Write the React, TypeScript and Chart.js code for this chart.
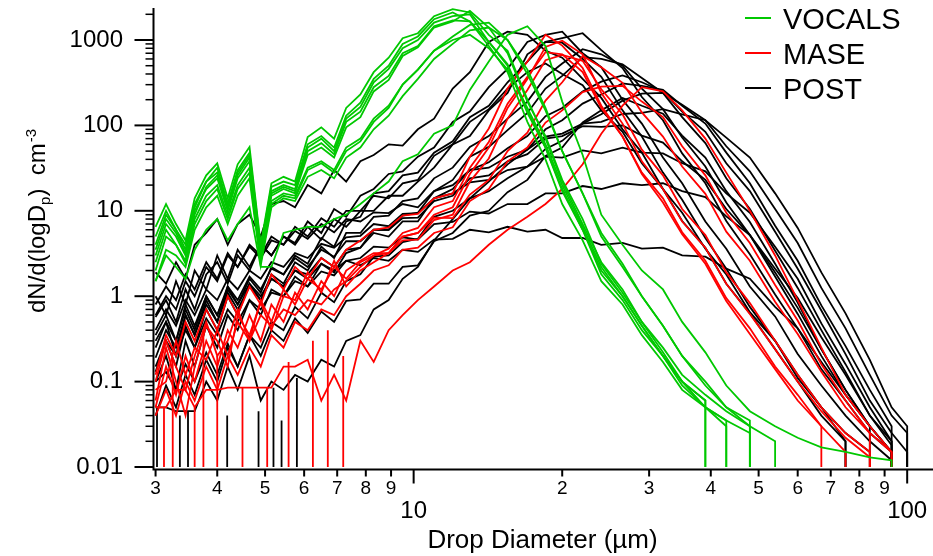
import { useEffect, useRef } from 'react';
import { Chart, registerables } from 'chart.js';

Chart.register(...registerables);

// Drop diameter bins (µm)
const DIAM = [3.0, 3.15, 3.3, 3.45, 3.6, 3.8, 4.0, 4.2, 4.4, 4.65, 4.9, 5.15, 5.45, 5.75, 6.1, 6.5, 6.9, 7.3, 7.8, 8.3, 8.9, 9.5, 10.2, 11, 12, 13, 14.2, 15.5, 17, 18.5, 20, 22, 24, 26.5, 29, 32, 35, 39, 43, 48, 54, 60, 67, 75, 84, 93, 100];

const X_TICKS = [3, 4, 5, 6, 7, 8, 9, 10, 20, 30, 40, 50, 60, 70, 80, 90, 100];
const X_BIG = [10, 100];
const Y_TICKS = [0.01, 0.1, 1, 10, 100, 1000];
const ZERO = 0.001; // zero count, plotted below the axis floor

const LEGEND_LABELS = ['VOCALS', 'MASE', 'POST'];
const LEGEND_COLORS = ['#00c800', '#ff0000', '#000000'];

// VOCALS
const VOCALS_1 = [6.5, 12, 7, 4.5, 14, 26, 36, 14, 35, 56, 4, 21, 25, 22, 73, 95, 70, 160, 230, 420, 620, 1050, 1200, 1900, 2300, 2100, 1150, 750, 200, 70, 22, 7, 2.5, 1.2, 0.5, 0.25, 0.12, 0.07, 0.045, 0.03];
const VOCALS_2 = [4, 9, 6, 3.5, 11, 22, 28, 12, 28, 45, 3.5, 17, 20, 18, 55, 70, 50, 120, 165, 320, 460, 800, 1000, 1600, 1900, 2000, 950, 500, 140, 55, 18, 6, 1.8, 0.9, 0.4, 0.2, 0.09, 0.05, 0.035];
const VOCALS_3 = [3, 7, 5, 3, 10, 18, 24, 10, 24, 38, 3, 15, 18, 16, 45, 55, 42, 95, 125, 250, 340, 650, 820, 1400, 1650, 2200, 1400, 700, 190, 75, 23, 8, 2.4, 1.1, 0.5, 0.22, 0.1, 0.06];
const VOCALS_4 = [2, 5, 4, 2.6, 8, 15, 20, 9, 20, 32, 2.8, 13, 16, 15, 32, 38, 30, 55, 70, 120, 170, 300, 450, 750, 1100, 1500, 1600, 1000, 400, 150, 50, 16, 5, 2.2, 1, 0.45, 0.2, 0.09, 0.05, 0.03, 0.02];
const VOCALS_5 = [5, 10, 6, 4, 12, 22, 32, 12, 30, 48, 3.8, 19, 22, 20, 60, 75, 55, 130, 185, 350, 500, 900, 1100, 1750, 2100, 1650, 850, 420, 110, 40, 12, 4.5, 1.5, 0.8, 0.35, 0.17, 0.08, 0.05, 0.03];
const VOCALS_6 = [1.5, 3.5, 3, 2.2, 6, 11, 15, 7, 15, 24, 2.3, 11, 14, 13, 25, 30, 24, 42, 55, 90, 130, 220, 350, 600, 900, 1300, 1400, 1000, 450, 160, 50, 16, 5.5, 2.4, 1, 0.45, 0.2, 0.1, 0.05, 0.035];
const VOCALS_7 = [3.5, 8, 5.5, 3.2, 9, 19, 26, 11, 26, 42, 3.2, 16, 19, 17, 50, 62, 46, 110, 145, 280, 380, 700, 850, 1450, 1700, 1650, 950, 520, 150, 55, 17, 6, 2, 1, 0.45, 0.2, 0.1, 0.06];
const VOCALS_8 = [1.5, 3, 2.2, 1.6, 3.5, 6, 8, 4.5, 7, 11, 2.2, 2.2, 5.5, 6, 6.5, 6.5, 8, 9, 12, 16, 22, 38, 46, 80, 100, 260, 560, 1150, 1450, 850, 190, 45, 9, 4, 2, 1.2, 0.5, 0.22, 0.09, 0.045, 0.03, 0.022, 0.017, 0.015, 0.013, 0.012];
const VOCALS_9 = [2.5, 6, 4, 2.4, 7, 13, 18, 8, 18, 28, 2.5, 12, 15, 14, 30, 36, 28, 50, 65, 110, 160, 300, 450, 750, 1000, 1150, 800, 450, 160, 60, 20, 6.5, 2.2, 1, 0.45, 0.2, 0.1, 0.05, 0.035, 0.025];

// MASE
const MASE_1 = [0.06, 0.25, 0.1, 0.04, 0.15, 0.45, 0.3, 0.15, 0.6, 0.35, 0.85, 0.4, 1.0, 0.9, 1.9, 1.1, 2.6, 1.3, 2, 2.5, 3.2, 5, 5.5, 9, 11, 27, 55, 160, 350, 830, 980, 680, 240, 105, 38, 18, 7.5, 3.7, 1.4, 0.62, 0.24, 0.1, 0.045, 0.022, 0.013];
const MASE_2 = [0.1, 0.3, 0.15, 0.08, 0.2, 0.5, 0.2, 0.3, 0.7, 0.3, 0.9, 0.5, 1.2, 0.8, 1.6, 1.2, 2.2, 1.6, 2.5, 3, 3.6, 5.5, 6.3, 11, 13, 32, 64, 180, 370, 720, 680, 420, 160, 74, 28, 14, 5.6, 2.6, 0.95, 0.42, 0.15, 0.07, 0.03, 0.015];
const MASE_3 = [0.05, 0.15, 0.07, 0.2, 0.1, 0.3, 0.15, 0.4, 0.25, 0.6, 0.3, 0.8, 0.5, 1.1, 0.7, 1.5, 1.0, 2, 2.6, 3.2, 3.2, 4.5, 4.6, 7.8, 9, 22, 41, 120, 260, 580, 670, 570, 265, 135, 52, 26, 10.5, 5.2, 1.9, 0.83, 0.3, 0.12, 0.05, 0.025, 0.015];
const MASE_4 = [0.08, 0.1, 0.3, 0.12, 0.25, 0.18, 0.4, 0.2, 0.5, 0.3, 0.6, 0.45, 0.7, 0.6, 0.9, 0.8, 1.2, 1.5, 2.2, 3, 3.2, 5, 5.5, 8.3, 8.2, 15.5, 23, 50, 82, 195, 320, 650, 480, 315, 142, 74, 33, 15.8, 5.7, 2.6, 0.86, 0.36, 0.13, 0.05, 0.025, 0.015];
const MASE_5 = [0.05, 0.05, 0.08, 0.08, 0.05, 0.08, 0.08, 0.085, 0.085, 0.085, 0.085, 0.085, 0.15, 0.15, 0.18, 0.06, 0.12, 0.06, 0.3, 0.17, 0.4, 0.6, 0.9, 1.3, 2, 2.5, 4, 6, 8.5, 12, 18, 35, 80, 170, 280, 250, 150, 70, 28, 10, 3, 0.9, 0.25, 0.07, 0.03, 0.015];
const MASE_6 = [0.04, 0.08, 0.04, 0.1, 0.06, 0.15, 0.08, 0.2, 0.12, 0.25, 0.15, 0.35, 0.25, 0.5, 0.4, 0.7, 0.6, 1, 1.4, 2, 2.3, 3.5, 3.7, 5.5, 6.4, 13, 18, 38, 55, 108, 150, 245, 285, 290, 190, 125, 57, 26, 9.5, 4.2, 1.35, 0.52, 0.16, 0.06, 0.025];
const MASE_7 = [0.12, 0.35, 0.2, 0.5, 0.3, 0.7, 0.4, 1.0, 0.6, 1.3, 0.8, 1.8, 1.2, 2.2, 1.6, 2.8, 2.2, 3.5, 4.5, 6, 6.4, 8.8, 9.2, 14, 16, 43, 92, 270, 560, 1150, 860, 470, 170, 74, 27, 12.5, 5.3, 2.4, 0.88, 0.36, 0.14, 0.06, 0.03];

// POST
const POST_1 = [1.9, 1.4, 2.5, 1.6, 4, 5.5, 8, 4, 7, 9, 5, 12, 13, 11, 20, 16, 30, 22, 38, 45, 60, 58, 90, 120, 270, 420, 950, 1250, 1150, 750, 620, 350, 210, 90, 48, 18, 9.5, 3.6, 1.8, 0.65, 0.3, 0.11, 0.05, 0.025, 0.015];
const POST_2 = [0.57, 0.9, 0.5, 1.2, 0.7, 1.8, 2.5, 1.4, 3, 2, 4, 3, 5, 4.2, 7.5, 5.5, 10.5, 8.5, 15, 18, 27, 29, 43, 55, 110, 145, 280, 460, 950, 1150, 1250, 700, 480, 200, 105, 42, 21, 7.5, 3.6, 1.3, 0.58, 0.21, 0.09, 0.04, 0.02, 0.012];
const POST_3 = [0.19, 0.4, 0.25, 0.6, 0.35, 0.9, 0.5, 1.3, 0.8, 1.6, 1.1, 2.2, 1.8, 3, 2.4, 4.8, 3.8, 7.5, 8.5, 16, 17, 26, 28, 48, 65, 125, 170, 320, 560, 950, 1050, 1200, 760, 470, 215, 115, 47, 21, 7.6, 3.1, 1.05, 0.42, 0.14, 0.06, 0.025, 0.015];
const POST_4 = [1.0, 0.6, 1.5, 0.8, 2, 1.2, 3, 1.6, 3.5, 2.2, 4, 3, 5, 4, 6.5, 4.6, 8, 6.5, 10, 10, 15, 15, 22, 32, 60, 75, 150, 240, 680, 950, 930, 600, 370, 150, 74, 28, 13.5, 4.8, 2.1, 0.75, 0.3, 0.12, 0.05, 0.02];
const POST_5 = [0.13, 0.3, 0.15, 0.45, 0.25, 0.7, 0.4, 1.0, 0.6, 1.4, 0.9, 1.8, 1.4, 2.5, 2, 3.8, 2.8, 5.5, 5.5, 8.5, 8.8, 13, 14, 24, 32, 56, 75, 120, 190, 370, 530, 780, 680, 500, 270, 155, 72, 33, 12.5, 5.2, 1.7, 0.62, 0.2, 0.07, 0.03, 0.015];
const POST_6 = [0.1, 0.2, 0.08, 0.3, 0.15, 0.45, 0.25, 0.6, 0.4, 0.9, 0.6, 1.2, 1, 1.7, 1.3, 2.4, 1.9, 3.2, 3.7, 6, 6, 8.8, 9.5, 17, 23, 43, 56, 88, 140, 270, 380, 630, 600, 520, 360, 240, 125, 62, 24, 10.5, 3.4, 1.25, 0.4, 0.13, 0.04, 0.018];
const POST_7 = [0.3, 0.5, 0.2, 0.6, 0.35, 0.8, 0.5, 1.1, 0.7, 1.3, 0.9, 1.6, 1.3, 2, 1.8, 2.8, 2.2, 3.5, 3.7, 5.5, 5, 7.5, 7.5, 14, 18, 30, 37, 54, 75, 128, 160, 250, 325, 385, 320, 250, 145, 84, 36, 17, 5.7, 2.1, 0.68, 0.21, 0.06, 0.025, 0.015];
const POST_8 = [0.05, 0.05, 0.045, 0.045, 0.045, 0.1, 0.06, 0.15, 0.08, 0.2, 0.06, 0.1, 0.08, 0.12, 0.1, 0.18, 0.15, 0.3, 0.35, 0.7, 0.9, 1.6, 2.2, 4.5, 8, 14, 22, 35, 52, 90, 115, 180, 230, 310, 290, 260, 170, 105, 48, 21, 6.7, 2.6, 0.78, 0.26, 0.08, 0.03];
const POST_9 = [0.04, 0.09, 0.05, 0.12, 0.07, 0.18, 0.1, 0.25, 0.15, 0.35, 0.25, 0.5, 0.4, 0.75, 0.55, 1.1, 0.85, 1.5, 1.8, 2.9, 3, 4.3, 4.7, 8.5, 10, 14, 17, 24, 33, 53, 66, 105, 135, 195, 235, 240, 175, 115, 57, 29, 10.5, 4.2, 1.25, 0.42, 0.12, 0.04, 0.025];
const POST_10 = [0.6, 1.0, 0.7, 1.5, 1.0, 2.2, 1.5, 3, 2.2, 3.8, 2.8, 4.5, 4, 5.8, 4.7, 7, 5.6, 8, 7.5, 9.6, 9.4, 12, 11, 17, 20, 30, 32, 43, 52, 74, 80, 105, 110, 136, 140, 155, 135, 115, 72, 42, 16, 6.3, 1.9, 0.63, 0.18, 0.05, 0.03];
const POST_11 = [0.4, 0.7, 0.45, 0.9, 0.6, 1.2, 0.9, 1.6, 1.2, 2, 1.6, 2.5, 2.2, 3.2, 2.8, 4.1, 3.7, 4.9, 5.1, 7, 6.6, 9.2, 9.4, 14, 16, 21.5, 23, 30, 33, 43, 42, 51, 47, 55, 48, 47, 36, 29, 16, 9.5, 3.8, 1.6, 0.48, 0.16, 0.05, 0.02];
const POST_12 = [0.15, 0.3, 0.2, 0.4, 0.25, 0.55, 0.35, 0.7, 0.5, 0.9, 0.7, 1.1, 1, 1.5, 1.3, 1.95, 1.75, 2.6, 2.8, 3.8, 3.7, 4.9, 4.6, 7, 7.4, 9.8, 9.3, 12, 12, 16, 16, 19.5, 18, 21, 20, 21, 17, 14.5, 8.6, 5.2, 2.1, 0.95, 0.33, 0.12, 0.04, 0.02];
const POST_13 = [0.25, 0.5, 0.3, 0.7, 0.4, 1.0, 0.6, 1.3, 0.9, 1.7, 1.2, 2.1, 1.8, 2.8, 2.2, 3.5, 2.9, 4.4, 4.4, 6, 6, 8.2, 8.3, 13, 15, 24, 26, 38, 46, 70, 75, 98, 96, 100, 76, 63, 38, 23, 10.5, 5.2, 1.9, 0.73, 0.24, 0.08, 0.03];
const POST_14 = [0.8, 1.3, 0.9, 1.8, 1.2, 2.5, 1.6, 3.2, 2.2, 4, 3, 5, 4, 6.5, 5, 8.2, 6.5, 10, 10, 15, 14, 21, 23, 44, 60, 110, 155, 270, 420, 530, 400, 295, 150, 84, 36, 18, 7.6, 3.7, 1.4, 0.63, 0.24, 0.1, 0.04, 0.02];
const POST_15 = [0.1, 0.13, 0.08, 0.16, 0.1, 0.22, 0.12, 0.28, 0.15, 0.35, 0.2, 0.4, 0.3, 0.55, 0.37, 0.66, 0.5, 0.88, 0.92, 1.4, 1.4, 2.2, 2.3, 4.4, 5.5, 8.8, 10, 16.5, 23, 44, 55, 108, 150, 210, 170, 137, 76, 42, 17, 7.4, 2.4, 0.84, 0.24, 0.08, 0.03, 0.015];
const POST_16 = [0.35, 0.6, 0.3, 0.8, 0.45, 1.0, 0.6, 1.2, 0.8, 1.4, 1, 1.6, 1.3, 2.0, 1.6, 2.4, 2.0, 2.6, 2.3, 2.8, 2.6, 3.5, 3.3, 4.6, 4.7, 6, 5.6, 6.5, 5.7, 6, 4.8, 4.8, 4, 4.2, 3.6, 3.7, 3.0, 2.9, 2.1, 1.6, 0.75, 0.42, 0.17, 0.07, 0.03, 0.015];

// Empty bins at the small end (drop to zero)
const MASE_ZERO_X = [3.12, 3.25, 3.6, 3.75, 4.0, 4.5, 5.05, 5.58, 6.25, 6.7, 7.2];
const MASE_ZERO_TOP = [0.05, 0.18, 0.05, 0.4, 0.2, 0.085, 0.085, 0.17, 0.3, 0.4, 0.2];
const POST_ZERO_X = [3.02, 3.36, 3.49, 4.19, 4.85, 5.2, 5.4, 5.8];
const POST_ZERO_TOP = [0.05, 0.04, 0.045, 0.04, 0.045, 0.085, 0.035, 0.11];

const VOCALS_SERIES = [VOCALS_1, VOCALS_2, VOCALS_3, VOCALS_4, VOCALS_5, VOCALS_6, VOCALS_7, VOCALS_8, VOCALS_9];
const MASE_SERIES = [MASE_1, MASE_2, MASE_3, MASE_4, MASE_5, MASE_6, MASE_7];
const POST_SERIES = [POST_1, POST_2, POST_3, POST_4, POST_5, POST_6, POST_7, POST_8, POST_9, POST_10, POST_11, POST_12, POST_13, POST_14, POST_15, POST_16];

const FAMILY = '"Liberation Sans", Arial, Helvetica, sans-serif';
const NARROW = '"Liberation Sans Narrow", "Liberation Sans", Arial, sans-serif';

function seriesPoints(vals: number[]) {
  const pts: any[] = vals.map((v, i) => ({ x: DIAM[i], y: v }));
  // the distribution ends in an empty bin
  pts.push({ x: DIAM[vals.length - 1], y: ZERO });
  return pts;
}

function zeroPoints(xs: number[], tops: number[]) {
  const pts: any[] = [];
  xs.forEach((x, i) => {
    pts.push({ x, y: tops[i] }, { x, y: ZERO }, { x, y: null });
  });
  return pts;
}

function lineDs(data: any[], color: string) {
  return {
    data,
    borderColor: color,
    backgroundColor: color,
    borderWidth: 1.8,
    pointRadius: 0,
    pointHoverRadius: 0,
    tension: 0,
    fill: false,
    spanGaps: false,
  };
}

const decorPlugin = {
  id: 'decor',
  afterDraw(chart: any) {
    const { ctx, chartArea: a, scales } = chart;
    const xs = scales.x;
    const ys = scales.y;
    ctx.save();
    ctx.strokeStyle = '#000';
    ctx.fillStyle = '#000';
    const axX = a.left - 0.5;
    const axY = a.bottom + 2.5;
    ctx.lineWidth = 2;
    ctx.beginPath();
    ctx.moveTo(axX, a.top);
    ctx.lineTo(axX, axY + 1);
    ctx.moveTo(axX - 1, axY);
    ctx.lineTo(a.right, axY);
    ctx.stroke();

    // y ticks (major + minor)
    Y_TICKS.forEach((major) => {
      for (let m = 1; m <= 9; m++) {
        const v = major * m;
        if (v > ys.max) break;
        const py = ys.getPixelForValue(v);
        const len = m === 1 ? 18 : 7;
        ctx.lineWidth = m === 1 ? 2 : 1.5;
        ctx.beginPath();
        ctx.moveTo(axX - 1 - len, py);
        ctx.lineTo(axX, py);
        ctx.stroke();
      }
    });

    // x ticks
    X_TICKS.forEach((v) => {
      const px = xs.getPixelForValue(v);
      const len = X_BIG.includes(v) ? 13 : 6;
      ctx.lineWidth = 2;
      ctx.beginPath();
      ctx.moveTo(px, axY);
      ctx.lineTo(px, axY + 1 + len);
      ctx.stroke();
    });

    // legend
    LEGEND_LABELS.forEach((lab, i) => {
      const cy = 18 + i * 35;
      ctx.strokeStyle = LEGEND_COLORS[i];
      ctx.lineWidth = 2;
      ctx.beginPath();
      ctx.moveTo(745, cy);
      ctx.lineTo(771, cy);
      ctx.stroke();
      ctx.font = `29px ${FAMILY}`;
      ctx.textAlign = 'left';
      ctx.textBaseline = 'alphabetic';
      ctx.fillText(lab, 783, cy + 10.5);
    });

    // x title
    ctx.font = `26px ${FAMILY}`;
    ctx.textAlign = 'center';
    ctx.textBaseline = 'alphabetic';
    ctx.fillText('Drop Diameter (µm)', 542.5, 548);

    // y title with subscript / superscript
    ctx.save();
    ctx.translate(45, 313);
    ctx.rotate(-Math.PI / 2);
    ctx.textAlign = 'left';
    let cx = 0;
    ctx.font = `24px ${FAMILY}`;
    ctx.fillText('dN/d(logD', cx, 0);
    cx += ctx.measureText('dN/d(logD').width;
    ctx.font = `15px ${FAMILY}`;
    ctx.fillText('p', cx, 5);
    cx += ctx.measureText('p').width;
    ctx.font = `24px ${FAMILY}`;
    ctx.fillText(')  cm', cx, 0);
    cx += ctx.measureText(')  cm').width;
    ctx.font = `15px ${FAMILY}`;
    ctx.fillText('-3', cx + 1, -9);
    ctx.restore();

    ctx.restore();
  },
};

export default function App() {
  const ref = useRef<HTMLCanvasElement | null>(null);

  useEffect(() => {
    if (!ref.current) return;
    const datasets: any[] = [];
    VOCALS_SERIES.forEach((s) => datasets.push(lineDs(seriesPoints(s), LEGEND_COLORS[0])));
    datasets.push(lineDs(zeroPoints(MASE_ZERO_X, MASE_ZERO_TOP), LEGEND_COLORS[1]));
    MASE_SERIES.forEach((s) => datasets.push(lineDs(seriesPoints(s), LEGEND_COLORS[1])));
    datasets.push(lineDs(zeroPoints(POST_ZERO_X, POST_ZERO_TOP), LEGEND_COLORS[2]));
    POST_SERIES.forEach((s) => datasets.push(lineDs(seriesPoints(s), LEGEND_COLORS[2])));

    const chart = new Chart(ref.current, {
      type: 'line',
      data: { datasets },
      options: {
        animation: false,
        responsive: true,
        maintainAspectRatio: false,
        layout: { padding: { top: 8, left: 0, right: 0, bottom: 0 } },
        plugins: { legend: { display: false }, tooltip: { enabled: false } },
        events: [],
        scales: {
          x: {
            type: 'logarithmic',
            position: 'bottom',
            min: 2.978,
            max: 112.8,
            bounds: 'data',
            afterBuildTicks: (s: any) => {
              s.ticks = X_TICKS.map((v) => ({ value: v }));
            },
            afterFit: (s: any) => {
              s.height = 89;
              s.paddingLeft = 0;
              s.paddingRight = 0;
            },
            grid: { display: false, drawTicks: false },
            border: { display: false },
            ticks: {
              autoSkip: false,
              maxRotation: 0,
              minRotation: 0,
              padding: 12,
              color: '#000',
              callback: (v: any) => {
                const n = Number(v);
                if (X_BIG.includes(n) || n < 10) return String(n);
                return String(n / 10);
              },
              font: (c: any) =>
                c.tick && X_BIG.includes(c.tick.value)
                  ? { family: FAMILY, size: 24, lineHeight: '64px' }
                  : { family: NARROW, size: 19, lineHeight: '20px' },
            },
          } as any,
          y: {
            type: 'logarithmic',
            position: 'left',
            min: 0.01,
            max: 2370,
            bounds: 'data',
            afterBuildTicks: (s: any) => {
              s.ticks = Y_TICKS.map((v) => ({ value: v }));
            },
            afterFit: (s: any) => {
              s.width = 154;
              s.paddingTop = 0;
              s.paddingBottom = 0;
            },
            grid: { display: false, drawTicks: false },
            border: { display: false },
            ticks: {
              padding: 31,
              color: '#000',
              font: { family: FAMILY, size: 24 },
              callback: (v: any) => String(Number(v)),
            },
          } as any,
        },
      },
      plugins: [decorPlugin],
    });
    return () => chart.destroy();
  }, []);

  return (
    <div style={{ position: 'absolute', left: 0, top: 0, width: 933, height: 556, background: '#fff' }}>
      <canvas ref={ref} />
    </div>
  );
}
